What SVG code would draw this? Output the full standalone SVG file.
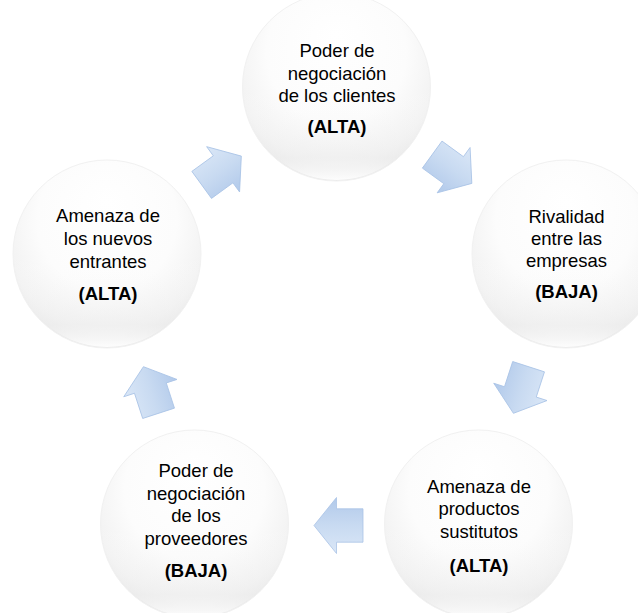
<svg xmlns="http://www.w3.org/2000/svg" width="638" height="613" viewBox="0 0 638 613">
  <defs>
    <radialGradient id="gCircle" cx="50%" cy="38%" r="62%" fx="50%" fy="22%">
      <stop offset="0" stop-color="#ffffff"/>
      <stop offset="0.6" stop-color="#fcfcfc"/>
      <stop offset="0.88" stop-color="#f2f2f2"/>
      <stop offset="1" stop-color="#e9e9e9"/>
    </radialGradient>
    <linearGradient id="gShade" x1="0" y1="0" x2="0" y2="1">
      <stop offset="0" stop-color="#ffffff" stop-opacity="0"/>
      <stop offset="0.5" stop-color="#ffffff" stop-opacity="0"/>
      <stop offset="0.88" stop-color="#ededed" stop-opacity="0.5"/>
      <stop offset="1" stop-color="#ffffff" stop-opacity="0.9"/>
    </linearGradient>
    <linearGradient id="gArrow" x1="0" y1="0" x2="0" y2="1">
      <stop offset="0" stop-color="#dae7f7"/>
      <stop offset="0.5" stop-color="#c8daf1"/>
      <stop offset="1" stop-color="#b1c9ea"/>
    </linearGradient>
    <path id="arr" d="M-24.5,-16.7 L2,-16.7 L2,-28 L24.5,0 L2,28 L2,16.7 L-24.5,16.7 Z"/>
  </defs>
  <style>
    .node circle.base { fill: url(#gCircle); stroke: #f1f1f1; stroke-width: 1; }
    .node circle.shade { fill: url(#gShade); }
    .node text { font-family: "Liberation Sans", Arial, sans-serif; font-size: 18.5px; fill: #000; text-anchor: middle; }
    .node text.b { font-weight: bold; }
    .conn use { fill: url(#gArrow); stroke: #a9c3e6; stroke-width: 0.8; }
  </style>

  <g id="nodes">
    <g id="n-clientes" class="node">
      <circle class="base" cx="336.5" cy="87" r="94"/>
      <circle class="shade" cx="336.5" cy="87" r="93"/>
      <text x="337" y="57">Poder de</text>
      <text x="337" y="80">negociación</text>
      <text x="337" y="102">de los clientes</text>
      <text class="b" x="337" y="133">(ALTA)</text>
    </g>
    <g id="n-rivalidad" class="node">
      <circle class="base" cx="566" cy="254" r="94"/>
      <circle class="shade" cx="566" cy="254" r="93"/>
      <text x="566.5" y="223">Rivalidad</text>
      <text x="566.5" y="245">entre las</text>
      <text x="566.5" y="267">empresas</text>
      <text class="b" x="566.5" y="298">(BAJA)</text>
    </g>
    <g id="n-sustitutos" class="node">
      <circle class="base" cx="478.5" cy="524" r="94"/>
      <circle class="shade" cx="478.5" cy="524" r="93"/>
      <text x="479" y="493">Amenaza de</text>
      <text x="479" y="515">productos</text>
      <text x="479" y="538">sustitutos</text>
      <text class="b" x="479" y="572">(ALTA)</text>
    </g>
    <g id="n-proveedores" class="node">
      <circle class="base" cx="194.5" cy="524" r="94"/>
      <circle class="shade" cx="194.5" cy="524" r="93"/>
      <text x="196" y="477">Poder de</text>
      <text x="196" y="500">negociación</text>
      <text x="196" y="522">de los</text>
      <text x="196" y="545">proveedores</text>
      <text class="b" x="196" y="577">(BAJA)</text>
    </g>
    <g id="n-entrantes" class="node">
      <circle class="base" cx="107" cy="254" r="94"/>
      <circle class="shade" cx="107" cy="254" r="93"/>
      <text x="108" y="222">Amenaza de</text>
      <text x="108" y="245">los nuevos</text>
      <text x="108" y="268">entrantes</text>
      <text class="b" x="108" y="300">(ALTA)</text>
    </g>
  </g>

  <g id="connectors" class="conn">
    <use href="#arr" transform="translate(452,169) rotate(36)"/>
    <use href="#arr" transform="translate(521,390) rotate(108)"/>
    <use href="#arr" transform="translate(338.5,525.5) rotate(180)"/>
    <use href="#arr" transform="translate(151,390) rotate(252)"/>
    <use href="#arr" transform="translate(221.5,170.5) rotate(324)"/>
  </g>
</svg>
